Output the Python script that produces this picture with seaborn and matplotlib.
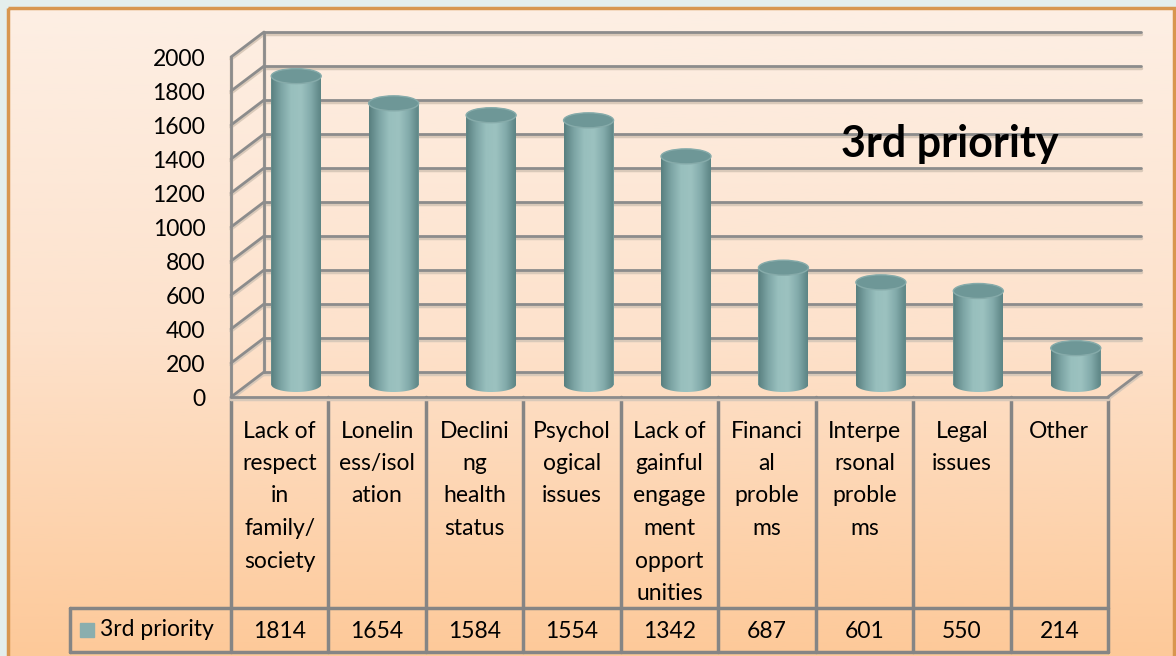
import numpy as np
import matplotlib.pyplot as plt
import seaborn as sns
from matplotlib.colors import LinearSegmentedColormap
from matplotlib.patches import Ellipse, PathPatch, Rectangle
from matplotlib.path import Path

# data
categories = ["Lack of respect in family/society", "Loneliness/isolation",
              "Declining health status", "Psychological issues",
              "Lack of gainful engagement opportunities", "Financial problems",
              "Interpersonal problems", "Legal issues", "Other"]
# how the table cells break the words
wrapped_labels = [["Lack of", "respect", "in", "family/", "society"],
                  ["Lonelin", "ess/isol", "ation"],
                  ["Declini", "ng", "health", "status"],
                  ["Psychol", "ogical", "issues"],
                  ["Lack of", "gainful", "engage", "ment", "opport", "unities"],
                  ["Financi", "al", "proble", "ms"],
                  ["Interpe", "rsonal", "proble", "ms"],
                  ["Legal", "issues"],
                  ["Other"]]
values = [1814, 1654, 1584, 1554, 1342, 687, 601, 550, 214]
series_name = "3rd priority"
y_ticks = list(range(0, 2001, 200))

W, H = 1176, 656
sns.set_theme(style="white")
plt.rcParams['font.family'] = ['Lato', 'DejaVu Sans']
plt.rcParams['text.color'] = 'black'
FS = 16.5

fig = plt.figure(figsize=(W / 100, H / 100), dpi=100)
fig.patch.set_facecolor('#e4eeec')

# background panel with vertical gradient (pixel coords)
bg = fig.add_axes([0, 0, 1, 1], zorder=-10)
bg.set_xlim(0, W)
bg.set_ylim(H, 0)
bg.axis('off')
grad = np.linspace(0, 1, 256).reshape(-1, 1)
bg_cmap = LinearSegmentedColormap.from_list('bg', ['#fdefe4', '#fde2cc', '#fdc999'])
bg.imshow(grad, cmap=bg_cmap, extent=[8, W - 2, H, 8], aspect='auto')
bg.add_patch(Rectangle((8, 8), W - 10, H, fill=False, edgecolor='#d8964f', lw=2.5))

# front frame of the 3d plot, in pixels
L, R, B, T = 231, 1108, 397, 57
ax = fig.add_axes([L / W, 1 - B / H, (R - L) / W, (B - T) / H])
ax.patch.set_alpha(0)

sns.barplot(x=categories, y=values, ax=ax, width=0.513, color='#8ab0ae',
            saturation=1, errorbar=None, zorder=2)
ax.set_xlim(-0.5, 8.5)
ax.set_ylim(0, 2000)

px_x = 9 / (R - L)
px_y = 2000 / (B - T)
dep_x = 33 * px_x
dep_y = 25 * px_y

grid_c = '#8c8c8c'
shadow_c = '#d9c9b9'
segs = []
for v in y_ticks:
    segs.append(([-0.5, -0.5 + dep_x], [v, v + dep_y]))
    segs.append(([-0.5 + dep_x, 8.5 + dep_x], [v + dep_y, v + dep_y]))
segs.append(([-0.5, -0.5], [0, 2000]))
segs.append(([-0.5 + dep_x, -0.5 + dep_x], [dep_y, 2000 + dep_y]))
segs.append(([-0.5, 8.5], [0, 0]))
segs.append(([8.5, 8.5 + dep_x], [0, dep_y]))
for xs, ys in segs:
    ax.plot(xs, [y - 2 * px_y for y in ys], color=shadow_c, lw=2.5, clip_on=False, zorder=0.9)
    ax.plot(xs, ys, color=grid_c, lw=2, clip_on=False, zorder=1)

# cylinders: shift bars to mid depth, add gradient + top ellipse
cyl_cmap = LinearSegmentedColormap.from_list(
    'cyl', ['#587f7f', '#7ca4a4', '#98bfbd', '#9cc2c0', '#83abab', '#5c8484'])
shade = np.linspace(0, 1, 200).reshape(1, -1)
base = dep_y / 2
eh = 7.5 * px_y
for p in ax.patches:
    x0 = p.get_x() + dep_x / 2
    w = p.get_width()
    h = p.get_height()
    p.set_x(x0)
    p.set_y(base)
    p.set_edgecolor('none')
    cx = x0 + w / 2
    top = base + h
    th = np.linspace(np.pi, 2 * np.pi, 40)
    verts = [(x0, top), (x0, base)]
    verts += list(zip(cx + w / 2 * np.cos(th), base + eh * np.sin(th)))
    verts += [(x0 + w, top), (x0, top)]
    clip = PathPatch(Path(verts), transform=ax.transData, facecolor='none', edgecolor='none')
    ax.add_patch(clip)
    im = ax.imshow(shade, cmap=cyl_cmap, extent=[x0, x0 + w, base - eh, top],
                   aspect='auto', zorder=3)
    im.set_clip_path(clip)
    ax.add_patch(Ellipse((cx, top), w, 2 * eh, facecolor='#6e9797', edgecolor='#86abaa',
                         lw=1, zorder=4))

ax.set_xlim(-0.5, 8.5)
ax.set_ylim(0, 2000)
ax.set_xticks([])
ax.set_xlabel('')
ax.set_yticks(y_ticks)
ax.set_yticklabels([str(t) for t in y_ticks], fontsize=FS, color='black')
ax.tick_params(axis='y', length=0, pad=18.5)
for s in ax.spines.values():
    s.set_visible(False)

ax.text(0.819, 0.745, series_name, transform=ax.transAxes, fontsize=31,
        fontweight='bold', ha='center', va='center', color='black')

# data table under the chart (pixel coords)
tab_c = '#858585'
cw = (R - L) / len(categories)
for k in range(len(categories) + 1):
    bg.plot([L + k * cw, L + k * cw], [B, 652], color=tab_c, lw=2.5)
bg.plot([70, R], [608, 608], color=tab_c, lw=2.5)
bg.plot([70, R], [652, 652], color=tab_c, lw=2.5)
bg.plot([70, 70], [608, 652], color=tab_c, lw=2.5)
for k, lines in enumerate(wrapped_labels):
    xc = L + (k + 0.5) * cw
    for j, line in enumerate(lines):
        bg.text(xc, 431 + j * 32.5, line, fontsize=FS, ha='center', va='center')
    bg.text(xc, 631, str(values[k]), fontsize=FS, ha='center', va='center')
bg.add_patch(Rectangle((80, 623), 14, 14, color='#8aaeae'))
bg.text(100, 630, series_name, fontsize=FS, ha='left', va='center')

fig.savefig('out.png', dpi=100, facecolor=fig.get_facecolor())
